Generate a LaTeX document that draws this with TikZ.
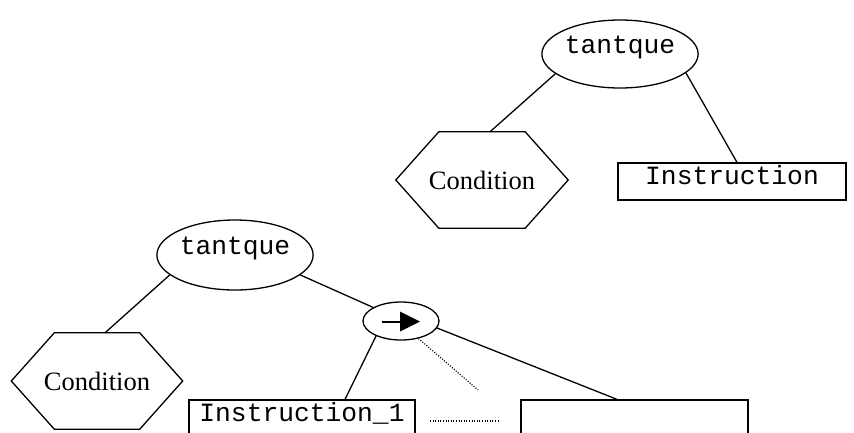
\documentclass[tikz,border=0pt]{standalone}
\usepackage{fontspec}
\setmainfont{Liberation Serif}
\newfontfamily\codefont{Liberation Mono}
\usetikzlibrary{shapes.geometric,calc}

\tikzset{
  edge/.style={line width=1.3pt},
  dotline/.style={line width=1.2pt, dash pattern=on 1pt off 1.6pt},
  keyword/.style={ellipse, draw, line width=1.3pt, inner sep=0pt,
    font=\codefont\fontsize{26.3}{27}\selectfont, text height=18pt, text depth=20pt},
  seqnode/.style={ellipse, draw, line width=1.3pt, inner sep=0pt},
  instr/.style={rectangle, draw, line width=1.3pt, inner sep=0pt,
    font=\codefont\fontsize{26.3}{27}\selectfont, text height=12pt, text depth=7pt},
  cond/.style={rectangle, inner sep=0pt, font=\fontsize{26.5}{27}\selectfont},
}

% hexagon drawn around a rectangular node, #2 = horizontal cut of the corners
\newcommand\hexframe[2]{%
  \draw[edge] (#1.west) -- ([xshift=#2]#1.north west) -- ([xshift=-#2]#1.north east)
    -- (#1.east) -- ([xshift=-#2]#1.south east) -- ([xshift=#2]#1.south west) -- cycle;}

\begin{document}
\begin{tikzpicture}[x=1pt, y=-1pt]
  \useasboundingbox (0,0) rectangle (854,432);
  \clip (0,0) rectangle (854,432);

  % ---- simple loop: condition + one instruction
  \node[keyword, minimum width=140pt, minimum height=68pt] (t1) at (620,54) {tantque};
  \node[cond, minimum width=172pt, minimum height=96pt] (c1) at (482,180) {Condition};
  \hexframe{c1}{43pt}
  \node[instr, minimum width=228pt, minimum height=37pt] (i1) at (732,181.5) {Instruction};

  \draw[edge] (t1.197) -- ([xshift=8pt]c1.north);
  \draw[edge] (t1.344) -- ([xshift=5pt]i1.north);

  % ---- loop whose body is a sequence of instructions
  \node[keyword, minimum width=140pt, minimum height=70pt] (t2) at (235,255) {tantque};
  \node[cond, minimum width=171pt, minimum height=96pt] (c2) at (97,381) {Condition};
  \hexframe{c2}{43pt}
  \node[seqnode, minimum width=76pt, minimum height=38pt] (s) at (401,321) {};
  \node[instr, minimum width=226pt, minimum height=37pt] (b1) at (302,418.5) {Instruction\_1};
  \node[instr, minimum width=227pt, minimum height=37pt] (bn) at (634.5,418.5) {};
  \coordinate (dotend) at (478,390);
  \coordinate (gapl) at (430,421);
  \coordinate (gapr) at (500,421);

  % sequence arrow symbol
  \draw[line width=1.6pt] ($(s.center)+(-19,1)$) -- ($(s.center)+(2,1)$);
  \fill ($(s.center)+(-1,-9.5)$) -- ($(s.center)+(19,0.5)$) -- ($(s.center)+(-1,10.5)$) -- cycle;

  \draw[edge] (t2.197) -- ([xshift=8pt]c2.north);
  \draw[edge] (t2.343) -- (s.154);
  \draw[edge] (s.211) -- ([xshift=43pt]b1.north);
  \draw[edge] (s.349) -- ([xshift=-17.5pt]bn.north);
  \draw[dotline] (s.315) -- (dotend);
  \draw[dotline] (gapl) -- (gapr);
\end{tikzpicture}
\end{document}
